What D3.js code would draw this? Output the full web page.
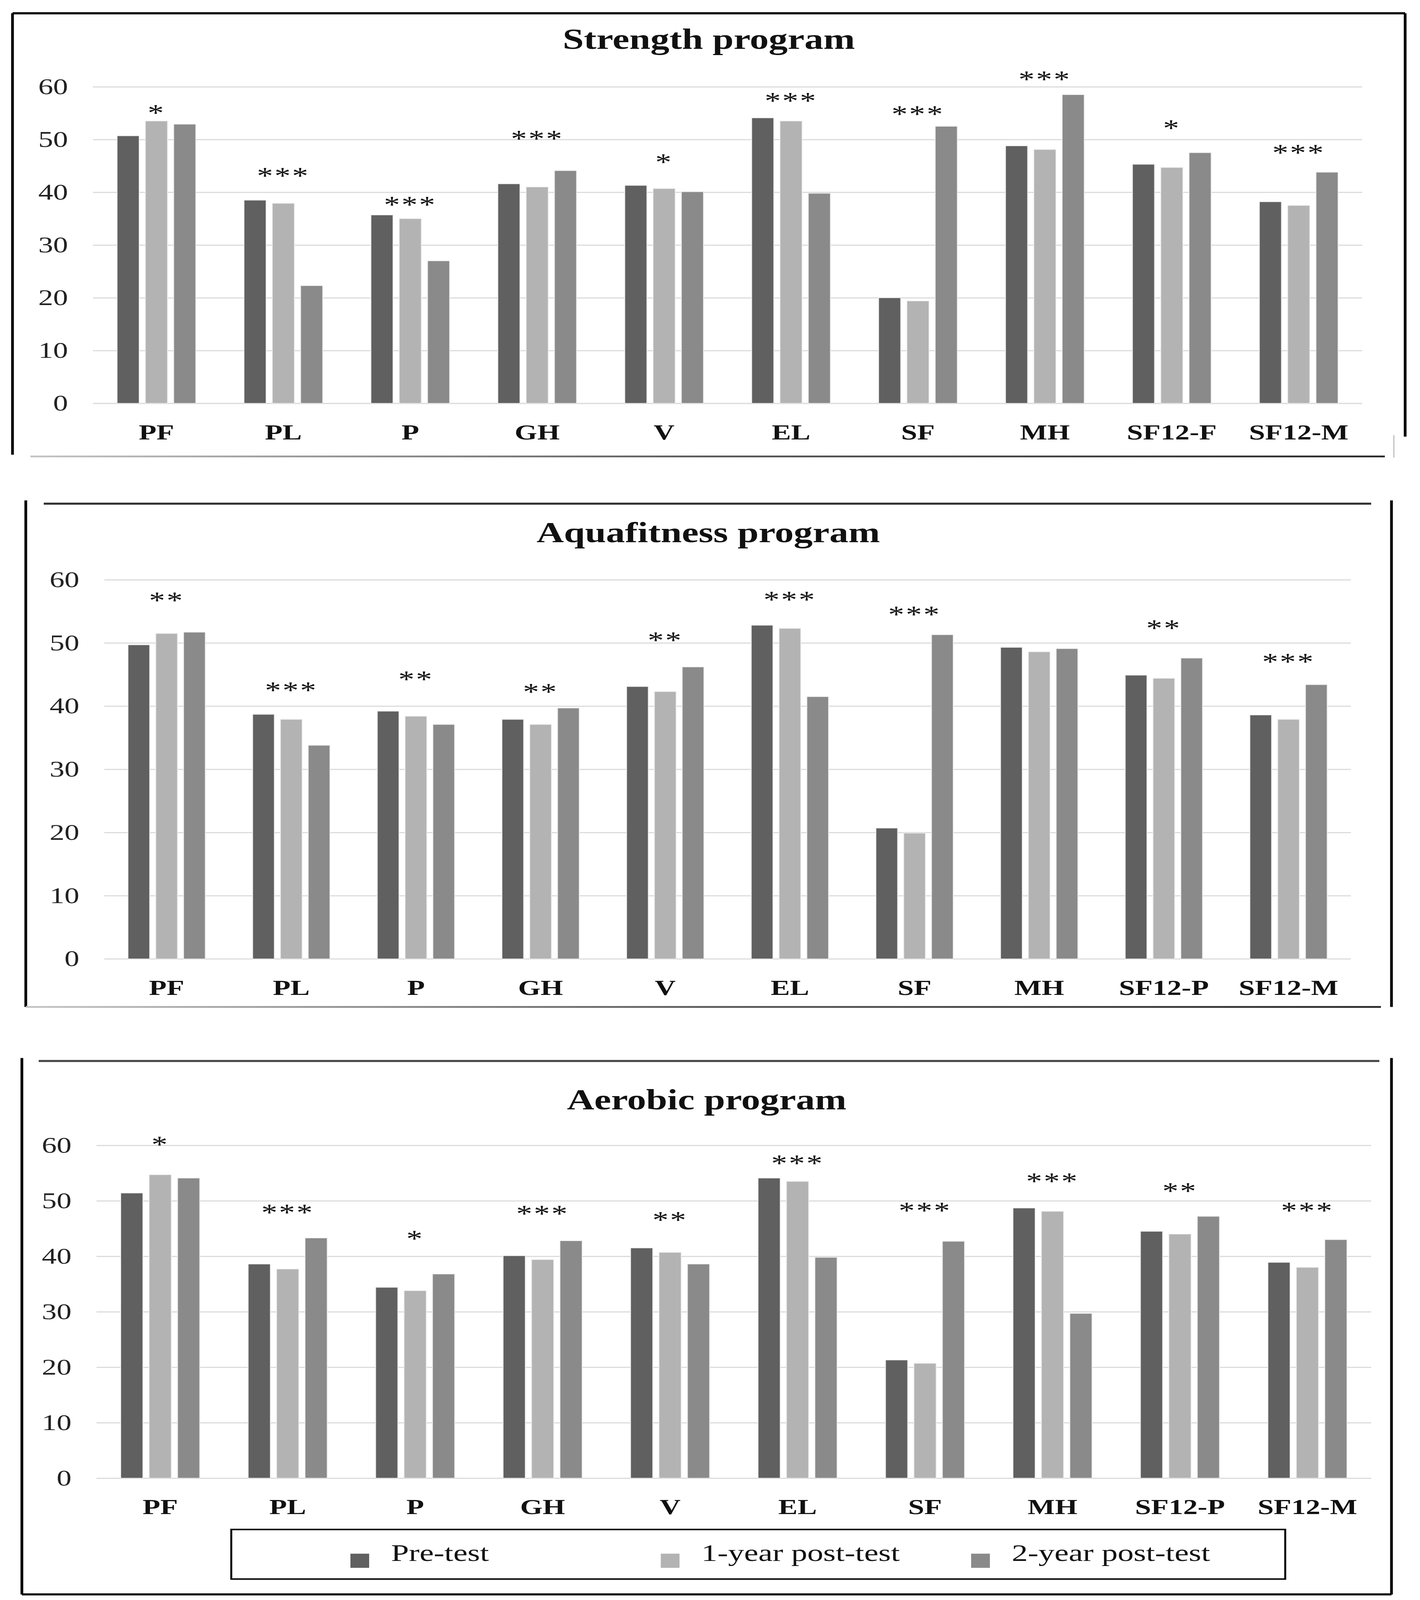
<!DOCTYPE html>
<html lang="en">
<head>
  <meta charset="UTF-8">
  <title>SF-36 scores by program</title>
  <style>
    html, body { margin: 0; padding: 0; width: 100%; height: 100%; overflow: hidden; background: #fff; }
    svg { display: block; width: 100vw; height: 100vh; }
    text { font-family: "Liberation Serif", "Times New Roman", serif; }
  </style>
</head>
<body>
  <svg id="chart" viewBox="0 0 3635 5423" preserveAspectRatio="none"></svg>

  <script src="https://d3js.org/d3.v7.min.js"></script>
  <script>
    // --- data ---
    const series = ["Pre-test", "1-year post-test", "2-year post-test"];
    const yTicks = [0, 10, 20, 30, 40, 50, 60];

    const catsStrength = ["PF", "PL", "P", "GH", "V", "EL", "SF", "MH", "SF12-F", "SF12-M"];
    const catsOther = ["PF", "PL", "P", "GH", "V", "EL", "SF", "MH", "SF12-P", "SF12-M"];

    const strengthPre = [50.7, 38.5, 35.7, 41.6, 41.3, 54.1, 20.0, 48.8, 45.3, 38.2];
    const strength1y = [53.5, 37.9, 35.0, 41.0, 40.7, 53.5, 19.4, 48.1, 44.7, 37.5];
    const strength2y = [52.9, 22.3, 27.0, 44.1, 40.1, 39.8, 52.5, 58.5, 47.5, 43.8];
    const strengthSig = ["*", "***", "***", "***", "*", "***", "***", "***", "*", "***"];
    const strengthSigAt = [55.7, 43.8, 38.3, 50.8, 46.4, 58.0, 55.5, 62.1, 52.8, 48.2];

    const aquaPre = [49.7, 38.7, 39.2, 37.9, 43.1, 52.8, 20.7, 49.3, 44.9, 38.6];
    const aqua1y = [51.5, 37.9, 38.4, 37.1, 42.3, 52.3, 19.9, 48.6, 44.4, 37.9];
    const aqua2y = [51.7, 33.8, 37.1, 39.7, 46.2, 41.5, 51.3, 49.1, 47.6, 43.4];
    const aquaSig = ["**", "***", "**", "**", "**", "***", "***", "", "**", "***"];
    const aquaSigAt = [57.3, 43.1, 44.8, 42.8, 51.0, 57.4, 55.1, 0, 52.9, 47.6];

    const aeroPre = [51.4, 38.6, 34.4, 40.1, 41.5, 54.1, 21.3, 48.7, 44.5, 38.9];
    const aero1y = [54.7, 37.7, 33.8, 39.4, 40.7, 53.5, 20.7, 48.1, 44.0, 38.0];
    const aero2y = [54.1, 43.3, 36.8, 42.8, 38.6, 39.8, 42.7, 29.7, 47.2, 43.0];
    const aeroSig = ["*", "***", "*", "***", "**", "***", "***", "***", "**", "***"];
    const aeroSigAt = [60.8, 48.5, 43.8, 48.3, 47.2, 57.4, 48.9, 54.2, 52.4, 48.9];

    // --- layout / style ---
    const colors = ["#606060", "#b3b3b3", "#8a8a8a"];
    const color = d3.scaleOrdinal(series, colors);

    const TITLE_SIZE = 97;
    const TICK_SIZE = 76;
    const CAT_SIZE = 74;
    const STAR_SIZE = 82;
    const LEGEND_SIZE = 82;
    const BORDER = 7;

    const panels = [
      {
        title: "Strength program", cats: catsStrength,
        values: [strengthPre, strength1y, strength2y], sig: strengthSig, sigAt: strengthSigAt,
        left: 32, right: 3597, top: 45, bottom: 1545,
        x0: 238, x1: 3487, y60: 294, yZero: 1367, titleY: 166,
        lines: [
          { x1: 32, y1: 45, x2: 3597, y2: 45, c: "#000" },
          { x1: 32, y1: 45, x2: 32, y2: 1541, c: "#000" },
          { x1: 3597, y1: 45, x2: 3597, y2: 1480, c: "#000" },
          { x1: 3568, y1: 1475, x2: 3568, y2: 1551, c: "#ccc", w: 4 },
          { x1: 78, y1: 1547, x2: 3545, y2: 1547, c: "url(#fadeDark)", w: 6 }
        ]
      },
      {
        title: "Aquafitness program", cats: catsOther,
        values: [aquaPre, aqua1y, aqua2y], sig: aquaSig, sigAt: aquaSigAt,
        left: 64, right: 3562, top: 1707, bottom: 3413,
        x0: 267, x1: 3458, y60: 1965, yZero: 3250, titleY: 1838,
        lines: [
          { x1: 112, y1: 1707, x2: 3510, y2: 1707, c: "#333", w: 7 },
          { x1: 66, y1: 1696, x2: 66, y2: 3413, c: "#000" },
          { x1: 3562, y1: 1696, x2: 3562, y2: 3413, c: "#000" },
          { x1: 66, y1: 3413, x2: 3535, y2: 3413, c: "url(#fadeDark)", w: 6 }
        ]
      },
      {
        title: "Aerobic program", cats: catsOther,
        values: [aeroPre, aero1y, aero2y], sig: aeroSig, sigAt: aeroSigAt,
        left: 56, right: 3562, top: 3596, bottom: 5404,
        x0: 247, x1: 3510, y60: 3882, yZero: 5010, titleY: 3760,
        lines: [
          { x1: 99, y1: 3596, x2: 3531, y2: 3596, c: "#444", w: 7 },
          { x1: 56, y1: 3586, x2: 56, y2: 5404, c: "#000" },
          { x1: 3562, y1: 3586, x2: 3562, y2: 5404, c: "#000" },
          { x1: 56, y1: 5404, x2: 3562, y2: 5404, c: "#000" }
        ],
        legend: { left: 592, right: 3290, top: 5184, bottom: 5352 }
      }
    ];

    const svg = d3.select("#chart");

    const defs = svg.append("defs");
    const grad = defs.append("linearGradient").attr("id", "fadeDark")
      .attr("gradientUnits", "userSpaceOnUse")
      .attr("x1", 0).attr("x2", 3635).attr("y1", 0).attr("y2", 0);
    grad.append("stop").attr("offset", "0%").attr("stop-color", "#c8c8c8");
    grad.append("stop").attr("offset", "50%").attr("stop-color", "#555");
    grad.append("stop").attr("offset", "100%").attr("stop-color", "#222");

    panels.forEach(p => {
      const g = svg.append("g");

      const x = d3.scaleBand()
        .domain(p.cats)
        .range([p.x0, p.x1])
        .paddingInner(0.38)
        .paddingOuter(0.19);

      const xs = d3.scaleBand()
        .domain(series)
        .range([0, x.bandwidth()])
        .paddingInner(0.22);

      const y = d3.scaleLinear()
        .domain([0, 60])
        .range([p.yZero, p.y60]);

      // gridlines + y labels
      const yAxis = d3.axisLeft(y)
        .tickValues(yTicks)
        .tickSize(-(p.x1 - p.x0))
        .tickPadding(64)
        .tickFormat(d3.format("d"));

      g.append("g")
        .attr("transform", `translate(${p.x0},0)`)
        .call(yAxis)
        .call(a => a.select(".domain").remove())
        .call(a => a.selectAll("line").attr("stroke", "#dcdcdc").attr("stroke-width", 4))
        .call(a => a.selectAll("text")
          .attr("font-family", "Liberation Serif, serif")
          .attr("font-size", TICK_SIZE)
          .attr("fill", "#222"));

      // bars
      const rows = p.cats.map((c, i) => ({
        cat: c,
        vals: series.map((s, k) => ({ s, v: p.values[k][i] }))
      }));

      const grp = g.append("g").selectAll("g")
        .data(rows)
        .join("g")
        .attr("transform", d => `translate(${x(d.cat)},0)`);

      grp.selectAll("rect")
        .data(d => d.vals)
        .join("rect")
        .attr("x", d => xs(d.s))
        .attr("width", xs.bandwidth())
        .attr("y", d => y(d.v))
        .attr("height", d => y(0) - y(d.v))
        .attr("fill", d => color(d.s))
        .attr("stroke", "#ececec")
        .attr("stroke-width", 2);

      // significance stars
      g.append("g").selectAll("text")
        .data(p.cats.map((c, i) => ({ cat: c, s: p.sig[i], at: p.sigAt[i] })).filter(d => d.s))
        .join("text")
        .attr("x", d => x(d.cat) + x.bandwidth() / 2)
        .attr("y", d => y(d.at) + STAR_SIZE * 0.47)
        .attr("text-anchor", "middle")
        .attr("font-size", STAR_SIZE)
        .attr("fill", "#111")
        .attr("letter-spacing", 4)
        .text(d => d.s);

      // category labels
      const xAxis = d3.axisBottom(x).tickSize(0).tickPadding(0);
      g.append("g")
        .attr("transform", `translate(0,${p.yZero})`)
        .call(xAxis)
        .call(a => a.select(".domain").remove())
        .call(a => a.selectAll("text")
          .attr("dy", null)
          .attr("y", 122)
          .attr("font-family", "Liberation Serif, serif")
          .attr("font-weight", "bold")
          .attr("font-size", CAT_SIZE)
          .attr("fill", "#111"));

      // title
      g.append("text")
        .attr("x", (p.left + p.right) / 2)
        .attr("y", p.titleY)
        .attr("text-anchor", "middle")
        .attr("font-weight", "bold")
        .attr("font-size", TITLE_SIZE)
        .attr("fill", "#111")
        .text(p.title);

      // frame pieces
      g.append("g").selectAll("line")
        .data(p.lines)
        .join("line")
        .attr("x1", d => d.x1).attr("y1", d => d.y1)
        .attr("x2", d => d.x2).attr("y2", d => d.y2)
        .attr("stroke", d => d.c)
        .attr("stroke-width", d => d.w || BORDER);

      // legend
      if (p.legend) {
        const L = p.legend;
        g.append("rect")
          .attr("x", L.left).attr("y", L.top)
          .attr("width", L.right - L.left).attr("height", L.bottom - L.top)
          .attr("fill", "none").attr("stroke", "#000").attr("stroke-width", 5);

        const lx = d3.scalePoint().domain(series).range([897, 2486]);
        const item = g.append("g").selectAll("g")
          .data(series)
          .join("g")
          .attr("transform", d => `translate(${lx(d)},0)`);

        item.append("rect")
          .attr("x", 0).attr("y", 5266)
          .attr("width", 48).attr("height", 48)
          .attr("fill", d => color(d));

        item.append("text")
          .attr("x", 104).attr("y", 5290)
          .attr("font-size", LEGEND_SIZE)
          .attr("fill", "#111")
          .text(d => d);
      }
    });
  </script>
</body>
</html>
